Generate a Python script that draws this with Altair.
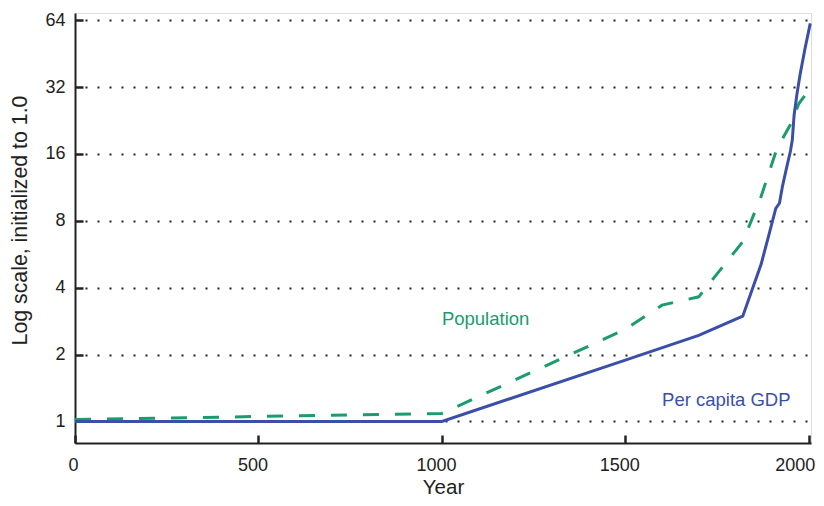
import altair as alt
import pandas as pd

# Per capita GDP (relative to year 0)
gdp_years = [0, 1000, 1500, 1700, 1820, 1845, 1870, 1890, 1910, 1920, 1928, 1940, 1950, 1955, 1960, 1968, 1977, 1990, 2004]
gdp_vals = [1.0, 1.0, 1.89, 2.44, 2.98, 3.9, 5.1, 6.8, 9.1, 9.6, 11.4, 14.0, 16.5, 18.5, 24.0, 30.0, 37.0, 48.0, 62.0]

# Population (relative to year 0)
pop_years = [0, 1000, 1500, 1600, 1700, 1820, 1870, 1913, 1950, 1973, 2003]
pop_vals = [1.02, 1.087, 2.6, 3.34, 3.64, 6.44, 10.3, 16.9, 21.7, 27.0, 31.5]

label_text = ["Population", "Per capita GDP"]
label_x = [1000, 1600]
label_y = [2.71, 1.18]

y_ticks = [1, 2, 4, 8, 16, 32, 64]
x_ticks = [0, 500, 1000, 1500, 2000]

BLUE = "#3b4fa8"
GREEN = "#1a9c6c"
AX = "#222222"
FONT = "Liberation Sans"

gdp = pd.DataFrame({"year": gdp_years, "value": gdp_vals})
pop = pd.DataFrame({"year": pop_years, "value": pop_vals})
labels = pd.DataFrame({"text": label_text, "year": label_x, "value": label_y,
                       "color": [GREEN, BLUE]})


def xs():
    return alt.Scale(domain=[0, 2006], nice=False, zero=False)


def ys():
    return alt.Scale(type="log", base=2, domain=[0.8, 69], nice=False)


main_x = alt.Axis(orient="bottom", values=x_ticks, title="Year", ticks=True, tickSize=0,
                  tickColor=AX, format="d",
                  labelFontSize=18, labelFont=FONT, labelColor=AX, labelPadding=13,
                  labelOffset={"condition": [{"test": "datum.value == 0", "value": -2},
                                             {"test": "datum.value == 2000", "value": -14}],
                               "value": -6},
                  titleFontSize=20.5, titleFont=FONT, titleFontWeight="normal",
                  titleColor=AX, titleBaseline="alphabetic", titleY=50,
                  domainColor=AX, domainWidth=2, grid=False, labelFlush=False)
main_y = alt.Axis(orient="left", values=y_ticks, title="Log scale, initialized to 1.0",
                  ticks=True, tickSize=0, tickColor=AX,
                  labelFontSize=18, labelFont=FONT, labelColor=AX,
                  labelPadding=10, titleFontSize=21.3, titleFont=FONT,
                  titleFontWeight="normal", titleColor=AX, titlePadding=14, titleY=207,
                  domainColor=AX, domainWidth=2, grid=True, gridColor="#222222",
                  gridWidth=2, gridDash=[2, 10], gridDashOffset=-10, gridOpacity=1,
                  labelFlush=False)
# inward-pointing tick marks: an extra tick-only axis pulled into the plot
tick_x = alt.Axis(orient="bottom", values=x_ticks, title=None, labels=True, labelExpr="''",
                  domain=False, ticks=True, tickSize=8, tickWidth=2.5, tickColor=AX,
                  offset=-8, grid=False)
tick_y = alt.Axis(orient="left", values=y_ticks, title=None, labels=True, labelExpr="''",
                  domain=False, ticks=True, tickSize=8, tickWidth=2.5, tickColor=AX,
                  offset=-8, grid=False)

gdp_line = alt.Chart(gdp).mark_line(color=BLUE, strokeWidth=3).encode(
    x=alt.X("year:Q", scale=xs(), axis=main_x),
    y=alt.Y("value:Q", scale=ys(), axis=main_y),
)
pop_line = alt.Chart(pop).mark_line(color=GREEN, strokeWidth=3, strokeDash=[16, 16]).encode(
    x=alt.X("year:Q", scale=xs(), axis=tick_x),
    y=alt.Y("value:Q", scale=ys(), axis=tick_y),
)
text = alt.Chart(labels).mark_text(align="left", baseline="alphabetic", fontSize=18.5,
                                   font=FONT).encode(
    x=alt.X("year:Q", scale=xs(), axis=None),
    y=alt.Y("value:Q", scale=ys(), axis=None),
    text="text:N",
    color=alt.Color("color:N", scale=None),
)

chart = alt.layer(pop_line, gdp_line, text).resolve_scale(
    x="independent", y="independent"
).resolve_axis(
    x="independent", y="independent"
).properties(
    width=736, height=430,
    autosize=alt.AutoSizeParams(type="none"),
    padding={"left": 67, "top": 5, "right": 5, "bottom": 55},
).configure_view(stroke=None).configure(background="white")

chart.save("out.html", embed_options={"renderer": "svg", "actions": False})
